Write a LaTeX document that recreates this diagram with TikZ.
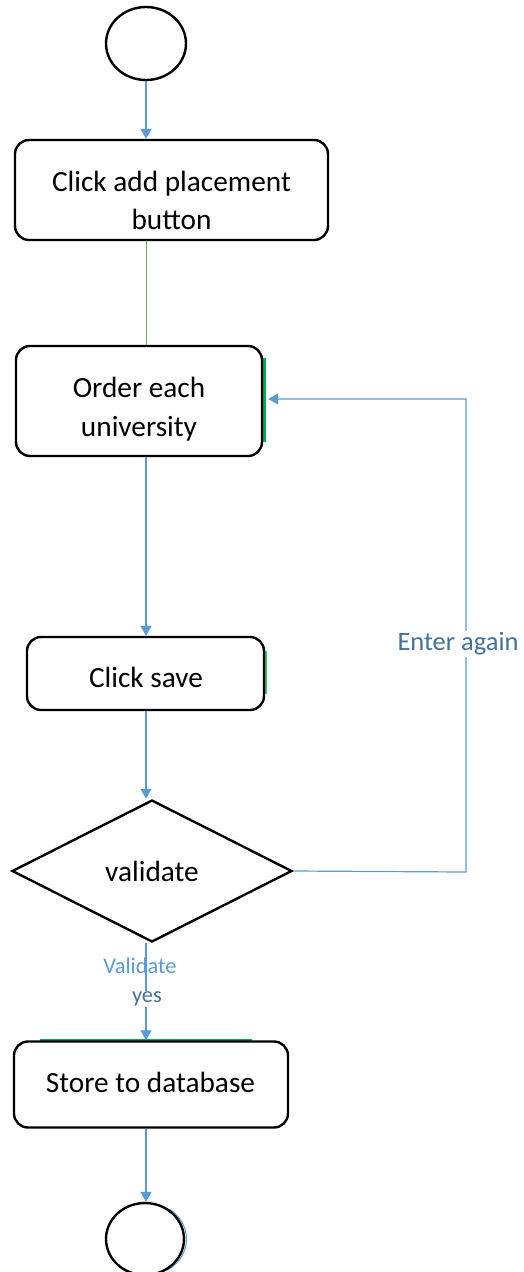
\documentclass[tikz,border=0pt]{standalone}
\usepackage{fontspec}
\setmainfont{Carlito}
\usetikzlibrary{shapes.geometric,arrows.meta,calc}
\definecolor{flowblue}{HTML}{5B9BD5}
\definecolor{labelblue}{HTML}{41719C}
\definecolor{edgegreen}{HTML}{00B050}
\definecolor{olivegreen}{HTML}{70AD47}
\tikzset{
  stepbox/.style={draw=black, line width=2.4pt, rounded corners=14pt, inner sep=0pt},
  boxtext/.style={inner sep=0pt, align=center, font=\fontsize{29.3}{39}\selectfont},
  terminal/.style={draw=black, line width=2.4pt, ellipse, inner sep=0pt,
    minimum width=80pt, minimum height=73pt},
  decision/.style={draw=black, line width=2.4pt, diamond, aspect=2, inner sep=0pt,
    minimum width=280pt, minimum height=142pt, font=\fontsize{29.3}{37}\selectfont},
  flow/.style={draw=flowblue, line width=1.2pt, -{Triangle[length=10pt,width=11pt]}},
  smalllabel/.style={font=\fontsize{22.4}{27}\selectfont, inner sep=1pt},
}
\begin{document}
\begin{tikzpicture}[x=1pt, y=-1pt]
\useasboundingbox (0,0) rectangle (524,1272);
\clip (0,0) rectangle (524,1272);

% terminals, boxes and decision
\node[terminal] (start) at (146,43.5) {};
\node[stepbox, minimum width=313pt, minimum height=100pt] (b1) at (171.5,190) {};
\node[boxtext, font=\fontsize{29.3}{37.5}\selectfont] (b1text) at (171.5,200.5) {Click add placement\\button};
% green edges under the black outlines
\draw[edgegreen, line width=3pt] (264.5,358) -- (264.5,442);
\draw[edgegreen!80, line width=1.5pt] (266,651) -- (266,694);
\draw[edgegreen, line width=2pt] (40,1039.5) -- (252,1039.5);
\node[stepbox, minimum width=246pt, minimum height=110pt, fill=white] (b2) at (139,401) {};
\node[boxtext] (b2text) at (139,409) {Order each\\university};
\node[stepbox, minimum width=237pt, minimum height=73pt, fill=white] (b3) at (145.5,673.5) {};
\node[boxtext] (b3text) at (146,677.5) {Click save};
\node[decision] (dec) at (152,871) {validate};
\node[stepbox, minimum width=274pt, minimum height=86pt] (b4) at (151,1084.5) {};
\node[boxtext] (b4text) at (150.5,1082.5) {Store to database};
% soft blue rim on the end terminal
\draw[flowblue, line width=1pt] ([xshift=2.5pt]$(145,1239)+(-60:39pt and 36pt)$) arc[start angle=-60, end angle=55, x radius=39pt, y radius=36pt];
\node[terminal, minimum width=78pt, minimum height=72pt] (stop) at (145,1239) {};

% main flow
\draw[flow] (start.south) -- (start.south |- b1.north);
\draw[olivegreen, line width=1pt] (b1.south -| start.south) -- (b2.north -| start.south);
\draw[flow] (b2.south -| start.south) -- (b3.north -| start.south);
\draw[flow] (b3.south -| start.south) -- (dec.north -| start.south);
\draw[flow] (dec.south -| start.south) -- (b4.north -| start.south);
\draw[flow] (b4.south -| start.south) -- (stop.north -| start.south);

% labels on the yes branch
\node[smalllabel, fill=white, text=labelblue] (yes) at (147,999) {yes};
\node[smalllabel, text=flowblue] (val) at (140,966) {Validate};

% loop back to re-enter
\coordinate (back) at ($(b2.east)+(5,-2)$);
\coordinate (corner) at (466,872);
\draw[flow] (dec.east) -- (corner) -- (corner |- back) -- (back);
\node[font=\fontsize{26.5}{32}\selectfont, text=labelblue, fill=white, inner sep=2pt] (again) at (458,644) {Enter again};
\end{tikzpicture}
\end{document}
